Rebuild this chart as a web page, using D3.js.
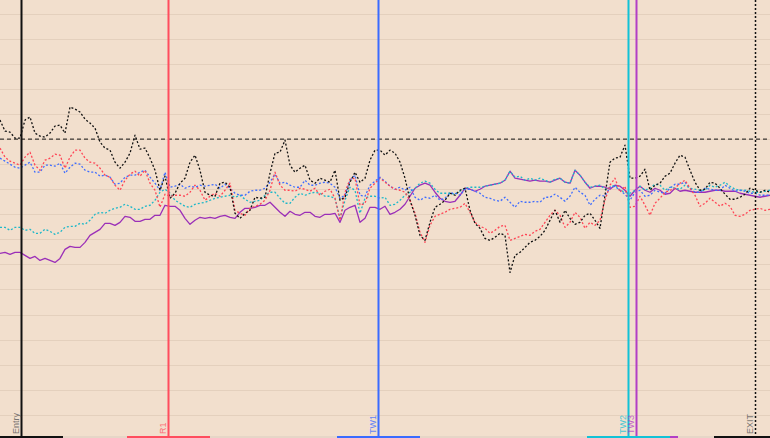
<!DOCTYPE html>
<html>
<head>
<meta charset="utf-8">
<script src="https://cdn.jsdelivr.net/npm/d3@7"></script>
<style>
  html, body { margin: 0; padding: 0; background: #f2dfcd; overflow: hidden; }
  #container { width: 770px; height: 438px; }
</style>
</head>
<body>
<div id="container"></div>
<script>

// price levels per bar (5 min bars), index 0..154
var blackSeries = [
  107.6, 103.2, 102.8, 100.4, 100.4, 107.6, 108.8, 102.4, 101.2, 100.8,
  102.4, 105.2, 105.6, 102.4, 112.8, 112, 110.8, 108, 106.4, 104.4,
  98.8, 96.4, 95.6, 90.8, 88.4, 90.8, 94.4, 101.6, 96, 96.4,
  92.4, 87.6, 79.6, 85.2, 76.4, 78.4, 82.4, 84.4, 90.8, 93.6,
  87.6, 78.8, 77.6, 77.2, 82.4, 82.8, 80.8, 70.4, 68.4, 70.4,
  71.6, 76.8, 76.4, 76.8, 86.4, 94.4, 94.8, 99.6, 89.6, 86.8,
  88.4, 89.6, 83.6, 82.4, 84.4, 83.6, 82.8, 87.6, 75.6, 76.8,
  82.8, 86.8, 82.8, 84.4, 91.6, 95.6, 95.6, 93.6, 95.6, 94.4,
  90.8, 84.4, 75.6, 69.6, 61.6, 59.6, 66.8, 72.8, 74, 75.6,
  78.4, 77.6, 79.6, 80.4, 71.6, 66.4, 64.4, 60.4, 59.6, 60.8,
  62.4, 61.6, 46.8, 53.6, 54.8, 56.8, 58.8, 59.6, 61.2, 63.6,
  67.6, 71.6, 66.8, 71.6, 68.4, 66, 66.8, 69.6, 70.4, 67.6,
  64.4, 77.6, 90.8, 92.4, 92.8, 97.6, 84.4, 84.4, 85.2, 88,
  79.6, 81.6, 82.4, 85.2, 86.4, 90.4, 93.6, 92.8, 87.6, 82.8,
  79.6, 80, 82.8, 82.4, 80.4, 78, 76, 76, 76.8, 78,
  80.4, 79.6, 78.8, 79.6, 78.8
];

var redSeries = [
  96.4, 92.8, 91.2, 90.4, 89.6, 92.8, 94.8, 89.6, 87.6, 91.6,
  92.4, 94, 93.6, 88.4, 92.8, 95.6, 95.6, 92.4, 90.8, 90.4,
  88.4, 85.6, 84.8, 81.6, 79.6, 83.6, 86, 87.2, 85.2, 87.6,
  82.4, 79.6, 72.8, 78, 77.2, 77.6, 77.6, 77.2, 78.8, 81.6,
  79.6, 75.6, 77.2, 78.4, 77.2, 79.6, 82.4, 71.6, 70.4, 69.6,
  72.4, 73.2, 74, 75.6, 79.6, 86.8, 81.6, 79.6, 79.6, 79.2,
  80.4, 80, 79.2, 80.4, 77.6, 79.2, 80, 76.4, 67.6, 78.8,
  84, 84.4, 73.6, 74.4, 80.4, 82.4, 84.4, 82.8, 81.2, 80,
  79.6, 78.8, 75.6, 70.4, 62.8, 58.8, 65.6, 69.2, 70, 70.8,
  72, 72.4, 72.8, 74.4, 70.8, 66.8, 65.2, 64.4, 62.4, 63.6,
  65.2, 65.6, 59.6, 60.4, 61.2, 62, 61.6, 63.2, 64, 66.8,
  69.6, 71.6, 69.6, 64.8, 66.8, 70.8, 68.8, 64.4, 66.8, 65.6,
  67.6, 75.6, 81.6, 84.4, 78.8, 81.2, 72.8, 73.2, 77.2, 73.6,
  69.6, 74.4, 76.4, 78.8, 79.6, 80.4, 82.4, 83.6, 80.4, 77.6,
  73.2, 74.4, 76.4, 74.8, 73.2, 74.4, 73.2, 69.6, 69.2, 70,
  71.6, 72, 72.4, 71.6, 72
];

var blueSeries = [
  92.4, 91.2, 90, 88.8, 88.4, 89.6, 90.8, 86.8, 86.8, 89.6,
  89.6, 89.2, 90.4, 86.4, 88.8, 90.4, 90, 87.6, 86.8, 86.8,
  85.2, 85.6, 84.8, 82, 82.4, 84.8, 85.6, 85.6, 86.8, 87.6,
  84.8, 82.4, 79.6, 86.8, 80.8, 81.2, 82, 80.4, 81.2, 80.8,
  81.6, 81.2, 81.6, 82, 80.4, 82, 80.4, 78.4, 77.6, 77.6,
  79.2, 79.6, 79.6, 80.4, 82.8, 86, 82.4, 82.8, 81.6, 80.8,
  80.8, 83.6, 81.6, 81.6, 82.4, 82.8, 82.4, 80.8, 76.4, 77.6,
  83.6, 85.6, 77.6, 77.2, 81.6, 83.2, 84.8, 83.2, 81.2, 80,
  80.8, 79.6, 80.8, 76.8, 75.6, 76.8, 76.4, 77.6, 75.6, 76.4,
  78.4, 78.4, 77.6, 80, 80, 79.2, 78.4, 76.8, 76.4, 75.6,
  75.2, 76.8, 74.8, 72.8, 75.2, 74.8, 74.8, 75.2, 74.8, 76.8,
  76.8, 78, 76.8, 75.2, 77.2, 80.8, 78.8, 77.6, 73.6, 76,
  77.6, 77.2, 80.8, 81.2, 79.6, 78, 75.6, 78.8, 79.6, 77.2,
  77.6, 79.6, 78.8, 78.4, 80.4, 82, 82, 82.8, 80.4, 78.8,
  78.8, 80.4, 80, 79.6, 79.6, 81.6, 80.4, 79.2, 79.6, 79.2,
  78.4, 78.4, 77.6, 77.6, 77.6
];

var cyanSeries = [
  64.8, 64.8, 63.6, 64.8, 64.8, 63.6, 64, 62.4, 62.4, 64,
  63.2, 62, 62.8, 64.8, 65.2, 65.2, 66.4, 66, 67.6, 70,
  70.8, 70.4, 71.6, 72.4, 72.8, 74, 73.2, 72, 72, 73.2,
  73.6, 75.6, 78.8, 80, 78.4, 75.6, 74.4, 73.2, 72.8, 74,
  74.4, 74.8, 75.6, 76.4, 76.8, 77.2, 77.6, 76.8, 77.6, 76,
  74.8, 75.2, 75.6, 77.6, 78.8, 78.8, 76.4, 74.4, 74.4, 76.8,
  78.4, 77.6, 78.4, 78.8, 78.4, 77.2, 77.2, 76.4, 68.4, 75.6,
  80.8, 79.6, 70.4, 76.4, 77.2, 77.2, 76.4, 76.8, 73.6, 74,
  75.6, 77.6, 78.8, 80.4, 82.4, 83.2, 82.4, 80, 78.4, 78.4,
  78.4, 78, 79.2, 80.4, 80.8, 80.8, 80.8, 81.2, 81.6, 82,
  82.4, 83.6, 87.2, 84.8, 85.2, 83.6, 84.4, 83.6, 84.4, 83.6,
  82.8, 84, 84.4, 82.8, 82.4, 87.6, 85.6, 82.8, 80.8, 81.2,
  81.6, 80, 80.8, 81.6, 79.6, 78.8, 78.4, 79.6, 81.2, 79.6,
  80.4, 82, 81.6, 79.6, 80.8, 80.4, 80, 81.6, 80.4, 80,
  79.6, 79.6, 81.6, 80.8, 81.6, 82.8, 81.2, 80, 79.6, 79.6,
  79.2, 78.8, 78.8, 79.2, 79.6
];

var purpleSeries = [
  54.4, 54.8, 54, 54.8, 54.8, 53.6, 52.4, 53.2, 51.6, 52.4,
  51.6, 50.8, 52.4, 56, 57.2, 56.8, 56.8, 58.8, 61.6, 62.8,
  64, 66.4, 66.4, 65.6, 66.8, 69.2, 68.8, 67.2, 67.2, 68,
  68, 69.6, 69.6, 73.6, 73.2, 73.2, 71.6, 68.4, 66, 67.6,
  68.8, 68.4, 68.8, 68.4, 69.2, 69.6, 68.8, 68.4, 70.8, 72.4,
  72.4, 72.8, 73.6, 73.6, 74.8, 72.8, 70.8, 69.2, 71.2, 70,
  69.6, 70.8, 70.8, 69.2, 68.8, 70, 70, 70.4, 66.8, 71.6,
  72.8, 73.6, 66.8, 68.4, 72.8, 72.8, 72, 73.2, 70, 70.8,
  72, 74, 77.2, 80.4, 81.6, 82.4, 81.6, 78.8, 76.4, 75.2,
  74.8, 75.2, 77.6, 80.4, 80, 79.2, 80, 81.2, 81.6, 82,
  82.4, 83.6, 87.2, 84.4, 84, 83.6, 83.2, 83.6, 83.2, 83.2,
  82.8, 83.6, 84.4, 82.8, 82.4, 87.6, 85.6, 82.8, 80.4, 81.2,
  81.2, 80.8, 80, 81.6, 81.2, 79.6, 77.2, 79.6, 81.2, 79.6,
  78.8, 80.4, 79.6, 78, 78.4, 80.4, 79.2, 79.6, 79.2, 78.8,
  78.8, 78.8, 79.2, 79.6, 79.6, 79.2, 79.2, 79.2, 78.4, 78,
  77.6, 77.2, 76.8, 77.2, 77.6
];

// event markers (bar position)
var markerNames = ["Entry", "R1", "TW1", "TW2", "TW3", "EXIT"];
var markerBars = [4.2, 33.6, 75.6, 125.6, 127.2, 151];
var markerColors = ["#111111", "#ff4d5e", "#3a6bff", "#12c2d6", "#b23ec6", "#111111"];

var entryLevel = 100;
var yTicks = [-10, 0, 10, 20, 30, 40, 50, 60, 70, 80, 90, 100, 110, 120, 130, 140, 150];

var width = 770, height = 438;

var svg = d3.select("div#container")
  .append("svg")
  .attr("width", width)
  .attr("height", height)
  .attr("viewBox", "0 0 " + width + " " + height);

svg.append("rect").attr("width", width).attr("height", height).attr("fill", "#f2dfcd");

var x = d3.scaleLinear().domain([0, blackSeries.length - 1]).range([0, width]);
var y = d3.scaleLinear().domain([-10, 150]).range([414.8, 13.8]);

// grid
svg.append("g")
  .selectAll("line")
  .data(yTicks)
  .enter().append("line")
  .attr("x1", 0).attr("x2", width)
  .attr("y1", function(d) { return Math.round(y(d)) + 0.5; })
  .attr("y2", function(d) { return Math.round(y(d)) + 0.5; })
  .attr("stroke", "#e4d0bd")
  .attr("stroke-width", 1);

// entry level
svg.append("line")
  .attr("x1", 0).attr("x2", width)
  .attr("y1", y(entryLevel)).attr("y2", y(entryLevel))
  .attr("stroke", "#111")
  .attr("stroke-width", 1)
  .attr("stroke-dasharray", "4,3");

var line = d3.line()
  .x(function(d, i) { return x(i); })
  .y(function(d) { return y(d); });

var series = [
  { values: purpleSeries, color: "#9b2fb8", dash: null },
  { values: cyanSeries, color: "#1db8c9", dash: "2,2" },
  { values: blueSeries, color: "#3f6dff", dash: "2,2" },
  { values: redSeries, color: "#ff4455", dash: "2,2" },
  { values: blackSeries, color: "#111111", dash: "2,2" }
];

series.forEach(function(s) {
  svg.append("path")
    .datum(s.values)
    .attr("d", line)
    .attr("fill", "none")
    .attr("stroke", s.color)
    .attr("stroke-width", 1.3)
    .attr("stroke-linejoin", "round")
    .attr("stroke-dasharray", s.dash);
});

// bottom strip, later markers underneath earlier ones
svg.append("rect")
  .attr("x", 0).attr("y", 436).attr("width", width).attr("height", 2)
  .attr("fill", "#e6d6c7");

for (var k = markerNames.length - 1; k >= 0; k--) {
  var bx = Math.round(x(markerBars[k]));
  svg.append("rect")
    .attr("x", bx - 41).attr("y", 436).attr("width", 83).attr("height", 2)
    .attr("fill", markerColors[k]);
}

markerNames.forEach(function(name, i) {
  var mx = Math.round(x(markerBars[i])) + 0.5;
  var dotted = name === "EXIT";
  svg.append("line")
    .attr("x1", mx).attr("x2", mx)
    .attr("y1", 0).attr("y2", 436)
    .attr("stroke", markerColors[i])
    .attr("stroke-width", dotted ? 1.5 : 2)
    .attr("stroke-dasharray", dotted ? "2,2" : null);

  svg.append("text")
    .attr("transform", "translate(" + (mx - 3) + ",434) rotate(-90)")
    .attr("font-family", "Liberation Sans, Arial, sans-serif")
    .attr("font-size", "9px")
    .attr("fill", (name === "Entry" || name === "EXIT") ? "#555" : markerColors[i])
    .attr("fill-opacity", 0.8)
    .text(name);
});

</script>
</body>
</html>
